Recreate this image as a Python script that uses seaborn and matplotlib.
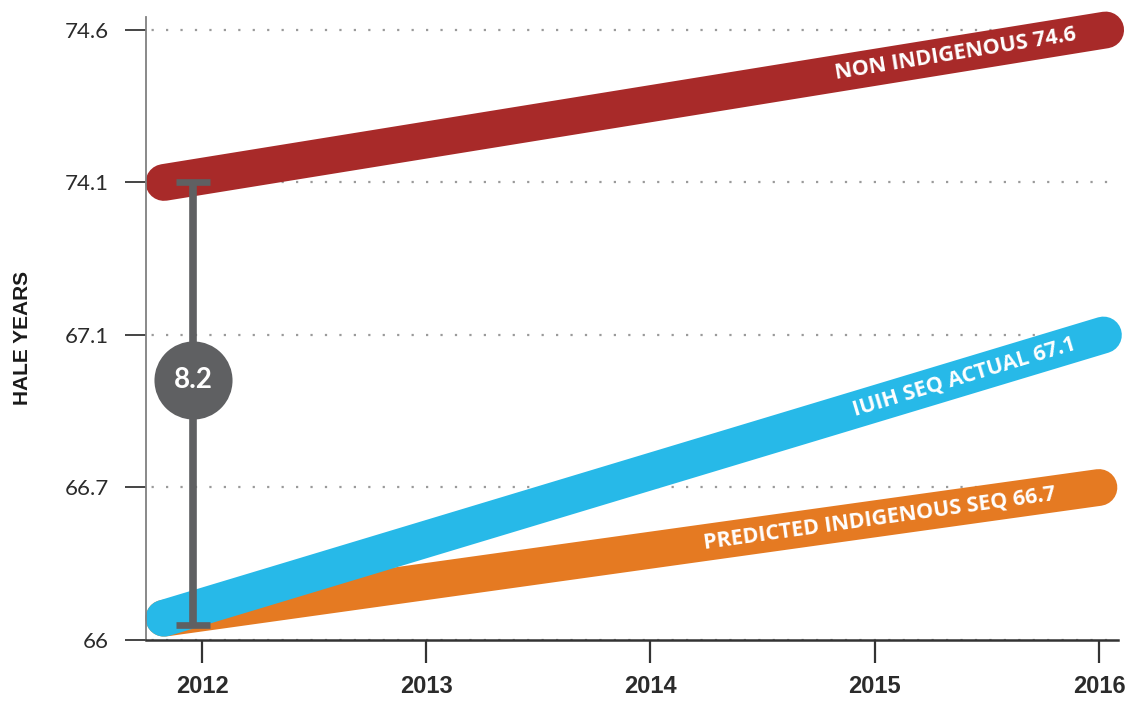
import numpy as np
import pandas as pd
import matplotlib
matplotlib.use("Agg")
import matplotlib.pyplot as plt
import matplotlib.transforms as mtransforms
import seaborn as sns

# HALE (health-adjusted life expectancy) trend lines: start and end of each series
series_names = ["NON INDIGENOUS", "PREDICTED INDIGENOUS SEQ", "IUIH SEQ ACTUAL"]
start_year = [2011.83, 2011.83, 2011.83]
end_year = [2016.03, 2016.0, 2016.02]
start_hale = [74.1, 66.1, 66.1]
end_hale = [74.6, 66.7, 67.1]
label_year = [2015.36, 2015.02, 2015.40]
line_colors = ["#a82a29", "#e57a22", "#27b9e8"]

# the y axis places these values evenly apart
hale_ticks = [66.0, 66.7, 67.1, 74.1, 74.6]
year_ticks = [2012, 2013, 2014, 2015, 2016]

# gap between non indigenous and indigenous HALE in 2012
gap_year = 2011.96
gap_top = 74.1
gap_bottom = 66.07
gap_label = "8.2"

sns.set_theme(style="white")
plt.rcParams["font.family"] = ["Lato", "DejaVu Sans"]

tick_pos = np.arange(len(hale_ticks), dtype=float)
tick_val = np.array(hale_ticks, dtype=float)


def forward(v):
    v = np.asarray(v, dtype=float)
    out = np.interp(v, tick_val, tick_pos)
    lo = tick_pos[0] + (v - tick_val[0]) / (tick_val[1] - tick_val[0])
    hi = tick_pos[-1] + (v - tick_val[-1]) / (tick_val[-1] - tick_val[-2])
    return np.where(v < tick_val[0], lo, np.where(v > tick_val[-1], hi, out))


def inverse(p):
    p = np.asarray(p, dtype=float)
    out = np.interp(p, tick_pos, tick_val)
    lo = tick_val[0] + (p - tick_pos[0]) * (tick_val[1] - tick_val[0])
    hi = tick_val[-1] + (p - tick_pos[-1]) * (tick_val[-1] - tick_val[-2])
    return np.where(p < tick_pos[0], lo, np.where(p > tick_pos[-1], hi, out))


rows = []
for name, x0, x1, y0, y1 in zip(series_names, start_year, end_year, start_hale, end_hale):
    rows.append({"year": x0, "hale": y0, "series": name})
    rows.append({"year": x1, "hale": y1, "series": name})
df = pd.DataFrame(rows)

fig = plt.figure(figsize=(11.28, 7.01), dpi=100)
ax = fig.add_axes([146 / 1128, 61 / 701, (1118 - 146) / 1128, (640 - 17) / 701])

sns.lineplot(
    data=df, x="year", y="hale", hue="series", hue_order=series_names,
    palette=line_colors, linewidth=26.5, solid_capstyle="round",
    estimator=None, sort=False, legend=False, ax=ax, clip_on=False,
)

ax.set_yscale("function", functions=(forward, inverse))
ax.set_xlim(2011.75, 2016.085)
ax.set_ylim(66.0, 74.6 + 0.085 * 0.5)

ax.set_yticks(hale_ticks)
ax.set_yticklabels([f"{t:g}" for t in hale_ticks])
ax.yaxis.set_minor_locator(matplotlib.ticker.NullLocator())
ax.set_xticks(year_ticks)
ax.set_xticklabels([str(y) for y in year_ticks])

ax.set_axisbelow(True)
ax.grid(axis="y", color="#9a9a9a", linewidth=1.6, linestyle=(4, (1, 5.5)))
ax.grid(axis="x", visible=False)

for side in ("top", "right"):
    ax.spines[side].set_visible(False)
ax.spines["left"].set_color("#808080")
ax.spines["left"].set_linewidth(1.3)
ax.spines["bottom"].set_color("#333333")
ax.spines["bottom"].set_linewidth(1.8)

ax.tick_params(axis="y", left=True, length=15, width=1.4, color="#444444",
               pad=12, labelsize=16, labelcolor="#2b2b2b")
ax.tick_params(axis="x", bottom=True, length=16.5, width=1.6, color="#333333",
               pad=9, labelsize=17, labelcolor="#2b2b2b")
for lab in ax.get_xticklabels():
    lab.set_fontfamily(["Liberation Sans", "DejaVu Sans"])
    lab.set_fontweight("bold")

ax.set_xlabel("")
ax.set_ylabel("HALE YEARS", fontsize=15, fontweight="bold", color="#1a1a1a",
              family=["Liberation Sans", "DejaVu Sans"])
ax.yaxis.set_label_coords(-0.1173, 0.485)

# gap bar between the 2012 starting values
ax.errorbar([gap_year], [gap_top], yerr=[[gap_top - gap_bottom], [0]], fmt="none",
            ecolor="#5f6062", elinewidth=5.5, capsize=12, capthick=4.8, zorder=5)
blend = mtransforms.blended_transform_factory(ax.transData, ax.transAxes)
ax.scatter([gap_year], [0.4173], s=3160, color="#5f6062", transform=blend,
           zorder=6, linewidths=0)
ax.text(gap_year, 0.4173, gap_label, transform=blend, ha="center", va="center",
        color="white", fontsize=20, fontweight="bold", zorder=7)

# series labels written along each line
for name, x0, x1, y0, y1, lx in zip(series_names, start_year, end_year,
                                    start_hale, end_hale, label_year):
    p0 = ax.transData.transform((x0, y0))
    p1 = ax.transData.transform((x1, y1))
    t = (lx - x0) / (x1 - x0)
    pm = p0 + t * (p1 - p0)
    angle = np.degrees(np.arctan2(p1[1] - p0[1], p1[0] - p0[0]))
    tx, ty = ax.transData.inverted().transform(pm)
    ax.text(tx, ty, f"{name} {y1:.1f}", rotation=angle, rotation_mode="anchor",
            ha="center", va="center", color="white", fontsize=15.5,
            fontweight="bold", family=["Open Sans", "DejaVu Sans"], zorder=4)

fig.savefig("out.png", dpi=100)
